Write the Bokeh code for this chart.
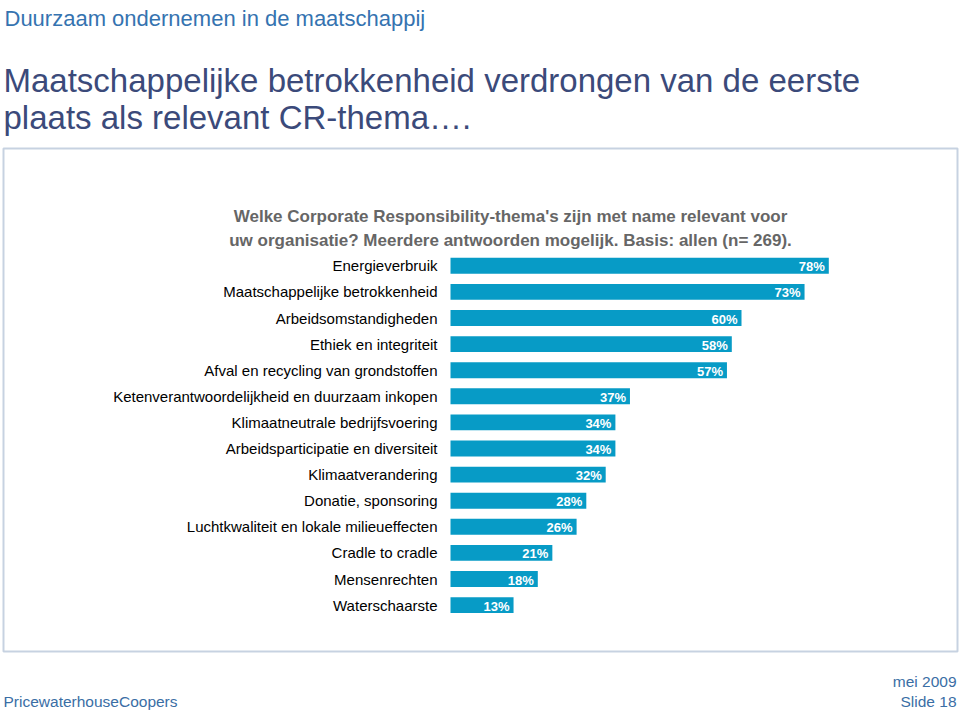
from bokeh.plotting import figure
from bokeh.models import Range1d, Label, BoxAnnotation, ColumnDataSource
from bokeh.core.properties import value
from bokeh.embed import file_html
from bokeh.resources import INLINE

categories = [
    "Energieverbruik",
    "Maatschappelijke betrokkenheid",
    "Arbeidsomstandigheden",
    "Ethiek en integriteit",
    "Afval en recycling van grondstoffen",
    "Ketenverantwoordelijkheid en duurzaam inkopen",
    "Klimaatneutrale bedrijfsvoering",
    "Arbeidsparticipatie en diversiteit",
    "Klimaatverandering",
    "Donatie, sponsoring",
    "Luchtkwaliteit en lokale milieueffecten",
    "Cradle to cradle",
    "Mensenrechten",
    "Waterschaarste",
]
values = [78, 73, 60, 58, 57, 37, 34, 34, 32, 28, 26, 21, 18, 13]
value_labels = [f"{v}%" for v in values]

W, H = 960, 711
PX_PER_PCT = 4.85
X0 = 450.0          # canvas px of 0%
ROW0 = 265.3        # canvas px of first row centre
ROW = 26.1          # px per row

XS = -X0 / PX_PER_PCT
XE = (W - X0) / PX_PER_PCT
YT = -ROW0 / ROW
YB = (H - ROW0) / ROW

def px(cx):
    return XS + cx / W * (XE - XS)

def py(cy):
    return YT + cy / H * (YB - YT)

FONT = "Liberation Sans"

p = figure(width=W, height=H, x_range=Range1d(XS, XE), y_range=Range1d(YB, YT),
           output_backend="svg", toolbar_location=None, min_border=0,
           background_fill_color="white", border_fill_color="white")
p.xaxis.visible = False
p.yaxis.visible = False
p.grid.visible = False
p.outline_line_color = None

src = ColumnDataSource(dict(y=list(range(len(categories))), v=values,
                            cat=categories, lab=value_labels))

p.hbar(y="y", left=0, right="v", height=0.61, source=src,
       fill_color="#079bc6", line_color=None)

p.text(x=0, y="y", text="cat", source=src, x_offset=-13,
       text_align="right", text_baseline="middle",
       text_font=value(FONT), text_font_size="15px", text_color="#000000")

p.text(x="v", y="y", text="lab", source=src, x_offset=-4, y_offset=1,
       text_align="right", text_baseline="middle",
       text_font=value(FONT), text_font_size="13px", text_font_style="bold",
       text_color="#ffffff")

# framed box
p.add_layout(BoxAnnotation(left=px(3), right=px(957), top=py(148), bottom=py(651),
                           fill_alpha=0, line_color="#46699c", line_width=2))

def lab(text, cx, cy, size, color, align="left", style="normal"):
    p.add_layout(Label(x=px(cx), y=py(cy), text=text, text_font=FONT,
                       text_font_size=size, text_color=color, text_align=align,
                       text_baseline="alphabetic", text_font_style=style))

lab("Duurzaam ondernemen in de maatschappij", 4, 18, "22px", "#3573b0")
lab("Maatschappelijke betrokkenheid verdrongen van de eerste", 3, 80, "33px", "#3b4a7a")
lab("plaats als relevant CR-thema\u2026.", 3, 117, "33px", "#3b4a7a")

lab("Welke Corporate Responsibility-thema's zijn met name relevant voor", 510, 216,
    "17px", "#666666", align="center", style="bold")
lab("uw organisatie? Meerdere antwoorden mogelijk. Basis: allen (n= 269).", 510, 240,
    "17px", "#666666", align="center", style="bold")

lab("PricewaterhouseCoopers", 3, 701, "15.5px", "#3a6ea5")
lab("mei 2009", 956, 681, "15.5px", "#3a6ea5", align="right")
lab("Slide 18", 956, 701, "15.5px", "#3a6ea5", align="right")

open("out.html", "w").write(file_html(p, INLINE))
